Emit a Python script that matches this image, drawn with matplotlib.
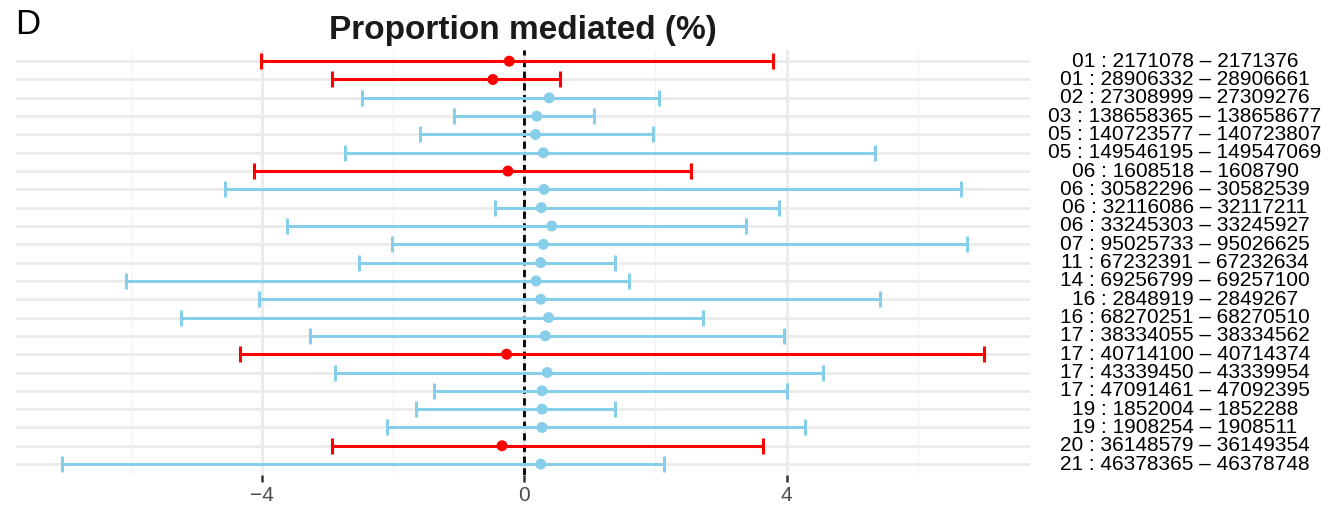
import matplotlib.pyplot as plt
import matplotlib.transforms as mtransforms
import numpy as np

plt.rcParams['font.family'] = ['Liberation Sans', 'DejaVu Sans']

regions = [
    '01 : 2171078 – 2171376', '01 : 28906332 – 28906661', '02 : 27308999 – 27309276',
    '03 : 138658365 – 138658677', '05 : 140723577 – 140723807', '05 : 149546195 – 149547069',
    '06 : 1608518 – 1608790', '06 : 30582296 – 30582539', '06 : 32116086 – 32117211',
    '06 : 33245303 – 33245927', '07 : 95025733 – 95026625', '11 : 67232391 – 67232634',
    '14 : 69256799 – 69257100', '16 : 2848919 – 2849267', '16 : 68270251 – 68270510',
    '17 : 38334055 – 38334562', '17 : 40714100 – 40714374', '17 : 43339450 – 43339954',
    '17 : 47091461 – 47092395', '19 : 1852004 – 1852288', '19 : 1908254 – 1908511',
    '20 : 36148579 – 36149354', '21 : 46378365 – 46378748',
]
estimate = [-0.23, -0.48, 0.38, 0.19, 0.17, 0.29, -0.25, 0.30, 0.26, 0.42, 0.29, 0.25,
            0.18, 0.25, 0.37, 0.32, -0.27, 0.35, 0.27, 0.27, 0.27, -0.34, 0.25]
lower = [-4.01, -2.94, -2.48, -1.07, -1.59, -2.74, -4.12, -4.57, -0.45, -3.62, -2.02, -2.52,
         -6.08, -4.04, -5.24, -3.27, -4.34, -2.89, -1.37, -1.65, -2.09, -2.93, -7.05]
upper = [3.80, 0.55, 2.05, 1.06, 1.96, 5.35, 2.54, 6.66, 3.89, 3.38, 6.75, 1.39,
         1.59, 5.42, 2.72, 3.96, 7.01, 4.55, 4.00, 1.39, 4.28, 3.64, 2.13]

est = np.array(estimate)
lo = np.array(lower)
hi = np.array(upper)
rows = np.arange(1, len(regions) + 1)
# negative estimates in red, the rest in sky blue
colors = np.where(est < 0, '#FF0000', '#87CEEB')

fig = plt.figure(figsize=(13.35, 5.07), dpi=100)
ax = fig.add_axes([0.012, 0.063, 0.7595, 0.838])

# ggplot-like limits with 5% padding
span = hi.max() - lo.min()
ax.set_xlim(lo.min() - 0.05 * span, hi.max() + 0.05 * span)
ax.set_ylim(len(regions) + 0.6, 0.4)

for s in ax.spines.values():
    s.set_visible(False)

for r in rows:
    ax.axhline(r, color='#EBEBEB', lw=2.0, zorder=0)
for v in [-6, -2, 2, 6]:
    ax.axvline(v, color='#F2F2F2', lw=0.8, zorder=0)
for v in [-4, 0, 4]:
    ax.axvline(v, color='#EBEBEB', lw=2.0, zorder=0)
ax.axvline(0, color='black', lw=2.0, ls=(0, (2.6, 1.6)), zorder=1)

for r, e, l, h, c in zip(rows, est, lo, hi, colors):
    ax.errorbar(e, r, xerr=[[e - l], [h - e]], fmt='none', ecolor=c,
                elinewidth=2.2, capsize=6, capthick=2.2, zorder=2)
ax.scatter(est, rows, s=62, c=colors, zorder=3, linewidths=0)

ax.set_xticks([-4, 0, 4])
ax.set_xticklabels(['−4', '0', '4'])
ax.tick_params(axis='x', length=5, width=1.8, color='#333333', labelcolor='#4D4D4D',
               labelsize=15, pad=3)
ax.set_yticks([])

# region labels, centred in the right margin, one per row
lab_tr = mtransforms.blended_transform_factory(fig.transFigure, ax.transData)
for r, lab in zip(rows, regions):
    ax.text(1185 / 1335, r, lab, transform=lab_tr, ha='center', va='center',
            fontsize=15, color='black')

fig.text(523 / 1335, 1 - 30 / 507, 'Proportion mediated (%)', ha='center', va='center',
         fontsize=24, fontweight='bold', color='#1A1A1A')
fig.text(15 / 1335, 1 - 25 / 507, 'D', ha='left', va='center', fontsize=25, color='black')

fig.savefig('out.png', dpi=100)
